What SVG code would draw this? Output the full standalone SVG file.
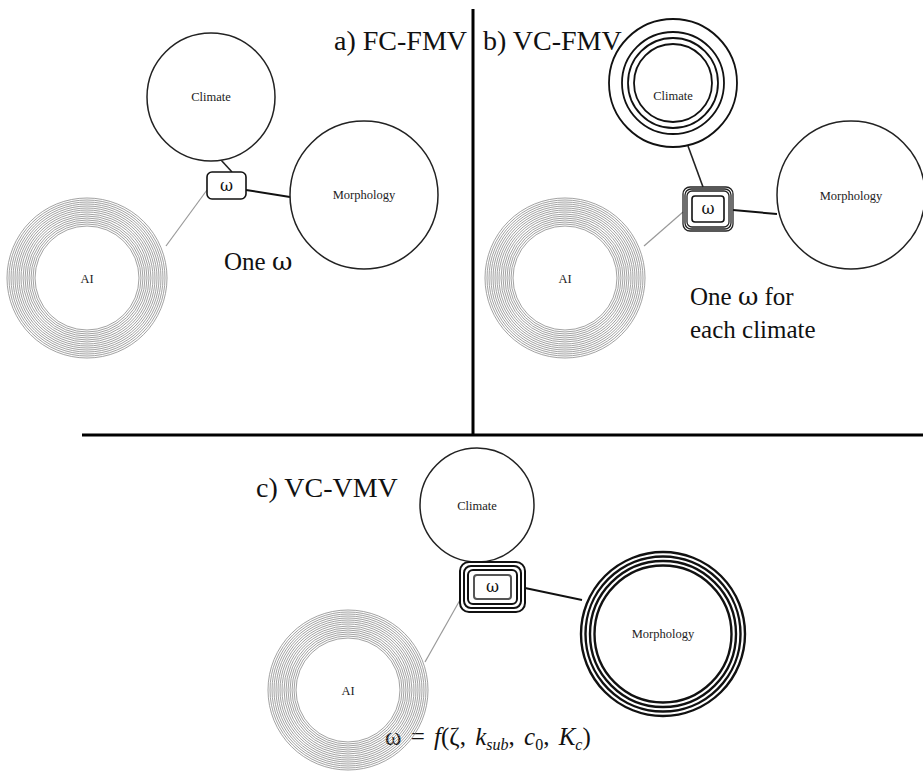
<svg xmlns="http://www.w3.org/2000/svg" width="923" height="771" viewBox="0 0 923 771">
<defs>
<style>
.lbl{font-family:"Liberation Serif","Times New Roman",serif;font-size:28px;fill:#111}
.capt{font-family:"Liberation Serif","Times New Roman",serif;font-size:25px;fill:#111}
.wg{font-family:"DejaVu Serif","Liberation Serif",serif}
.nt{font-family:"Liberation Serif","Times New Roman",serif;font-size:12.5px;fill:#222;text-anchor:middle;dominant-baseline:central}
.om{font-family:"DejaVu Serif","Liberation Serif",serif;font-size:16px;fill:#111;text-anchor:middle;dominant-baseline:central}
.c1{fill:#fff;stroke:#222;stroke-width:1.5}
.cr{fill:none;stroke:#111;stroke-width:1.8}
.mr{fill:none;stroke:#111;stroke-width:2.4}
.gr{fill:none;stroke:#8a8a8a;stroke-width:0.8}
.bx{fill:#fff;stroke:#111;stroke-width:1.6}
.bb{fill:none;stroke:#222;stroke-width:1.3}
.div{stroke:#000;stroke-width:3}
.ln{stroke:#222;stroke-width:1.6}
.lm{stroke:#111;stroke-width:2}
.lg{stroke:#999;stroke-width:1.2}
.it{font-style:italic;font-family:"Liberation Serif","Times New Roman",serif}
</style>
<g id="airings">
<circle class="gr" r="52"/><circle class="gr" r="54"/><circle class="gr" r="56"/><circle class="gr" r="58"/><circle class="gr" r="60"/><circle class="gr" r="62"/><circle class="gr" r="64"/><circle class="gr" r="66"/><circle class="gr" r="68"/><circle class="gr" r="70"/><circle class="gr" r="72"/><circle class="gr" r="74"/><circle class="gr" r="76"/><circle class="gr" r="78"/><circle class="gr" r="80"/>
</g>
</defs>
<rect width="923" height="771" fill="#fff"/>

<g id="dividers">
<line class="div" x1="473" y1="9" x2="473" y2="436"/>
<line class="div" x1="82" y1="435" x2="923" y2="435"/>
</g>

<g id="connectors">
<line class="ln" x1="221" y1="160" x2="232" y2="172"/>
<line class="lm" x1="246" y1="190" x2="290" y2="197"/>
<line class="lg" x1="166" y1="246" x2="207" y2="190"/>
<line class="ln" x1="688" y1="146" x2="703" y2="187"/>
<line class="lm" x1="733" y1="210" x2="777" y2="214"/>
<line class="lg" x1="644" y1="246" x2="683" y2="212"/>
<line class="ln" x1="470" y1="561" x2="484" y2="562"/>
<line class="lm" x1="525" y1="588" x2="582" y2="600"/>
<line class="lg" x1="425" y1="662" x2="460" y2="600"/>
</g>

<g id="labels">
<text class="lbl" x="334" y="50">a) FC-FMV</text>
<text class="lbl" x="483" y="50">b) VC-FMV</text>
<text class="lbl" x="256" y="497">c) VC-VMV</text>
<text class="capt" x="224" y="270">One <tspan class="wg">ω</tspan></text>
<text class="capt" x="690" y="305">One <tspan class="wg">ω</tspan> for</text>
<text class="capt" x="690" y="338">each climate</text>
<text class="capt" x="385" y="745" word-spacing="3">ω = <tspan class="it">f</tspan>(ζ, <tspan class="it">k</tspan><tspan class="it" font-size="16" dy="5">sub</tspan><tspan dy="-5">, </tspan><tspan class="it">c</tspan><tspan font-size="16" dy="5">0</tspan><tspan dy="-5">, </tspan><tspan class="it">K</tspan><tspan class="it" font-size="16" dy="5">c</tspan><tspan dy="-5">)</tspan></text>
</g>

<g id="a-climate"><circle class="c1" cx="211" cy="97" r="64"/><text class="nt" x="211" y="97">Climate</text></g>
<g id="a-morphology"><circle class="c1" cx="364" cy="195" r="74"/><text class="nt" x="364" y="195">Morphology</text></g>
<g id="a-ai"><use href="#airings" x="87" y="278"/><text class="nt" x="87" y="279">AI</text></g>
<g id="a-omega"><rect class="bx" x="207" y="172" width="39" height="27" rx="5"/><text class="om" x="226.5" y="185">ω</text></g>

<g id="b-climate"><circle class="cr" cx="673" cy="83" r="64"/><circle class="cr" cx="673" cy="83" r="51"/><circle class="cr" cx="673" cy="83" r="45"/><circle class="cr" cx="673" cy="83" r="39"/><text class="nt" x="673" y="96">Climate</text></g>
<g id="b-morphology"><circle class="c1" cx="851" cy="195" r="74"/><text class="nt" x="851" y="196">Morphology</text></g>
<g id="b-ai"><use href="#airings" x="565" y="278"/><text class="nt" x="565" y="279">AI</text></g>
<g id="b-omega"><rect class="bb" x="683" y="187" width="50" height="44" rx="7"/><rect class="bb" x="685" y="189" width="46" height="40" rx="6"/><rect class="bb" x="687" y="191" width="42" height="36" rx="5"/><rect class="bx" x="692" y="196" width="32" height="26" rx="3"/><text class="om" x="708" y="208">ω</text></g>

<g id="c-climate"><circle class="c1" cx="477" cy="505" r="57"/><text class="nt" x="477" y="506">Climate</text></g>
<g id="c-morphology"><circle class="mr" cx="663" cy="634" r="82"/><circle class="mr" cx="663" cy="634" r="77.5"/><circle class="mr" cx="663" cy="634" r="73"/><circle class="mr" cx="663" cy="634" r="68.5"/><text class="nt" x="663" y="634">Morphology</text></g>
<g id="c-ai"><use href="#airings" x="348" y="690"/><text class="nt" x="348" y="691">AI</text></g>
<g id="c-omega"><rect x="460" y="562" width="65" height="50" rx="9" fill="none" stroke="#111" stroke-width="2"/><rect x="464" y="566" width="57" height="42" rx="7" fill="none" stroke="#111" stroke-width="2"/><rect x="468" y="570" width="49" height="34" rx="5" fill="none" stroke="#111" stroke-width="2"/><rect x="474" y="575" width="37" height="24" rx="3" fill="#fff" stroke="#555" stroke-width="2"/><text class="om" x="492.5" y="586">ω</text></g>
</svg>
